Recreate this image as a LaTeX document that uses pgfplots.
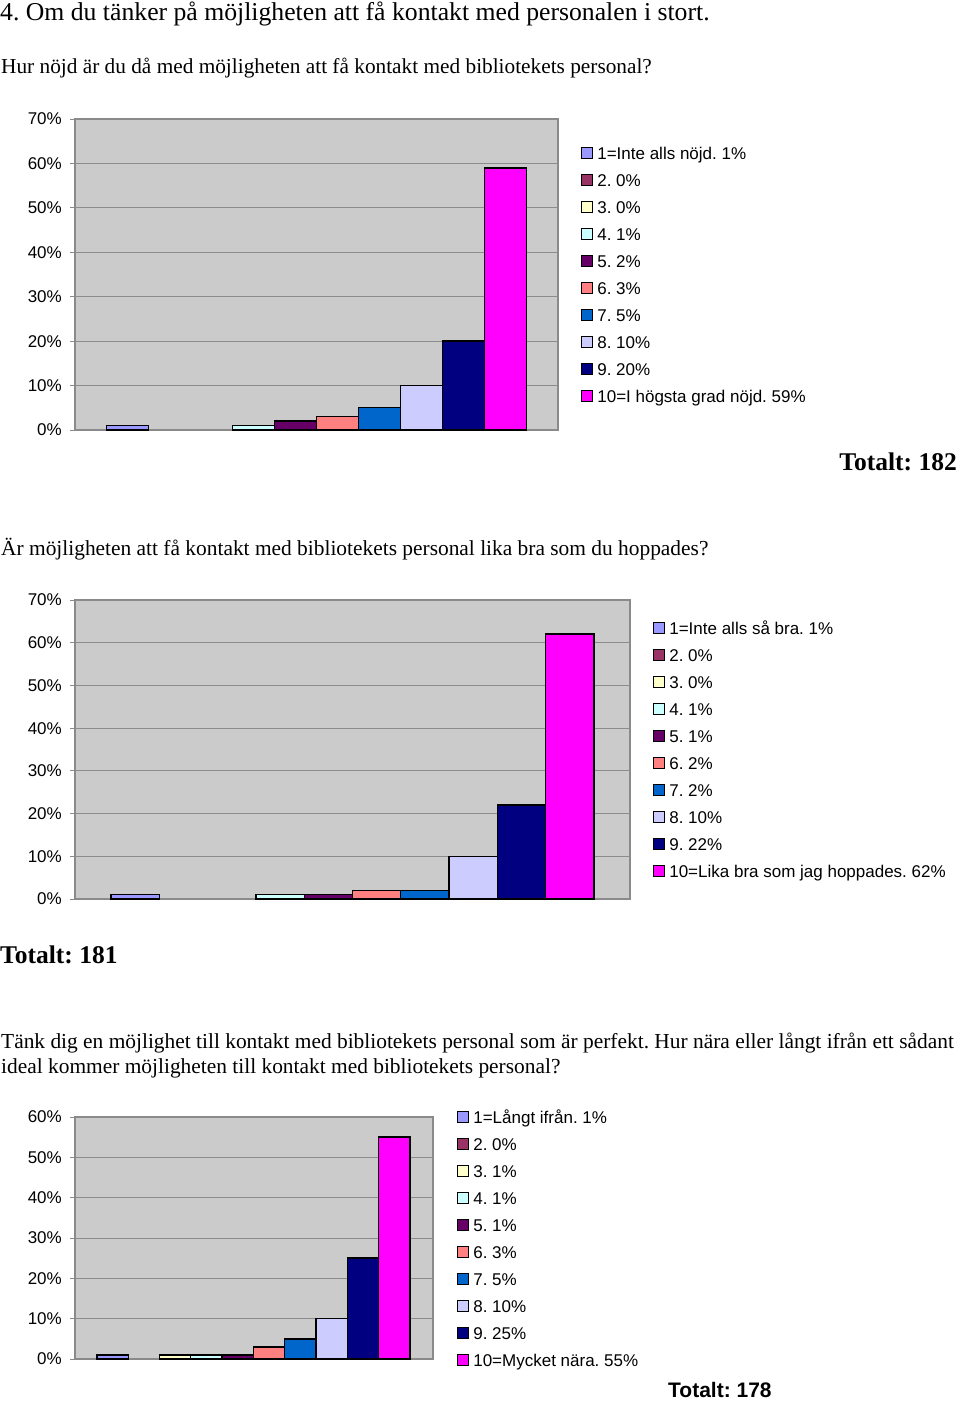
\documentclass[border=0pt]{standalone}
\usepackage{pgfplots}
\pgfplotsset{compat=1.18}
\usepackage{fontspec}
\setmainfont{Liberation Serif}
\newfontfamily\arial{Liberation Sans}
\definecolor{c1}{HTML}{9999FF}
\definecolor{c2}{HTML}{993366}
\definecolor{c3}{HTML}{FFFFCC}
\definecolor{c4}{HTML}{CCFFFF}
\definecolor{c5}{HTML}{660066}
\definecolor{c6}{HTML}{FF8080}
\definecolor{c7}{HTML}{0066CC}
\definecolor{c8}{HTML}{CCCCFF}
\definecolor{c9}{HTML}{000080}
\definecolor{c10}{HTML}{FF00FF}
\definecolor{plotgray}{HTML}{CBCBCB}
\definecolor{gridgray}{HTML}{8C8C8C}
\definecolor{axisgray}{HTML}{8A8A8A}
\pgfplotsset{
  sbar/.style={ybar, bar width=1, bar shift=0pt, draw=black, line width=1.4pt, fill=#1,
    legend image code/.code={\filldraw[##1,draw=black,line width=1.3pt,fill opacity=1,draw opacity=1] (0pt,-4pt) rectangle (11pt,7pt); \path (15pt,0pt);}},
  zerobar/.style={draw=none, fill opacity=0},
  survey/.style={
    scale only axis,
    axis background/.style={fill=plotgray},
    ymin=0,
    xtick=\empty,
    ymajorgrids,
    major grid style={draw=gridgray, line width=1pt},
    axis line style={draw=axisgray, line width=1.6pt},
    ytick pos=left,
    ytick align=outside, major tick length=5pt,
    tick style={draw=axisgray, line width=1pt},
    yticklabel style={font=\fontsize{17}{20}\selectfont\arial, inner sep=0pt, anchor=east, xshift=-8pt},
    clip=false,
    legend cell align=left,
    legend style={draw=none, fill=none, inner sep=0pt, outer sep=0pt, anchor=north west,
      font=\fontsize{17}{20}\selectfont\arial\frenchspacing, row sep=10pt, column sep=0pt,
      nodes={inner sep=0pt, text height=13pt, text depth=4pt}},
  }
}
\frenchspacing
\begin{document}
\frenchspacing
\begin{tikzpicture}[x=1pt,y=1pt]
\useasboundingbox (0,0) rectangle (960,-1401);
% texts
\node[anchor=base west, inner sep=0pt] at (0,-20) {\fontsize{25.7}{30}\selectfont 4. Om du tänker på möjligheten att få kontakt med personalen i stort.};
\node[anchor=base west, inner sep=0pt] at (1,-73) {\fontsize{21.3}{25}\selectfont Hur nöjd är du då med möjligheten att få kontakt med bibliotekets personal?};
\node[anchor=base east, inner sep=0pt] at (957,-470) {\fontsize{25.5}{30}\selectfont\bfseries Totalt: 182};
\node[anchor=base west, inner sep=0pt] at (1,-555) {\fontsize{21.4}{25}\selectfont Är möjligheten att få kontakt med bibliotekets personal lika bra som du hoppades?};
\node[anchor=base west, inner sep=0pt] at (0,-963) {\fontsize{25.5}{30}\selectfont\bfseries Totalt: 181};
\node[anchor=base west, inner sep=0pt] at (1,-1048) {\fontsize{21.4}{25}\selectfont Tänk dig en möjlighet till kontakt med bibliotekets personal som är perfekt. Hur nära eller långt ifrån ett sådant};
\node[anchor=base west, inner sep=0pt] at (1,-1073) {\fontsize{21.4}{25}\selectfont ideal kommer möjligheten till kontakt med bibliotekets personal?};
\node[anchor=base west, inner sep=0pt] at (668,-1397) {\fontsize{21}{25}\selectfont\arial\bfseries Totalt: 178};

% chart 1
\begin{axis}[survey, at={(75pt,-430pt)}, anchor=south west, width=483pt, height=311pt,
  xmin=-0.25, xmax=11.25, ymax=70, ytick={0,10,...,70},
  yticklabels={0\%,10\%,20\%,30\%,40\%,50\%,60\%,70\%},
  legend style={at={(axis description cs:1.0476,0.9132)}}]
\addplot[sbar=c1] coordinates {(1,1)}; \addlegendentry{1=Inte alls nöjd. 1\%}
\addplot[sbar=c2, zerobar] coordinates {(2,0)}; \addlegendentry{2. 0\%}
\addplot[sbar=c3, zerobar] coordinates {(3,0)}; \addlegendentry{3. 0\%}
\addplot[sbar=c4] coordinates {(4,1)}; \addlegendentry{4. 1\%}
\addplot[sbar=c5] coordinates {(5,2)}; \addlegendentry{5. 2\%}
\addplot[sbar=c6] coordinates {(6,3)}; \addlegendentry{6. 3\%}
\addplot[sbar=c7] coordinates {(7,5)}; \addlegendentry{7. 5\%}
\addplot[sbar=c8] coordinates {(8,10)}; \addlegendentry{8. 10\%}
\addplot[sbar=c9] coordinates {(9,20)}; \addlegendentry{9. 20\%}
\addplot[sbar=c10] coordinates {(10,59)}; \addlegendentry{10=I högsta grad nöjd. 59\%}
\end{axis}

% chart 2
\begin{axis}[survey, at={(75pt,-899pt)}, anchor=south west, width=555pt, height=299pt,
  xmin=-0.25, xmax=11.25, ymax=70, ytick={0,10,...,70},
  yticklabels={0\%,10\%,20\%,30\%,40\%,50\%,60\%,70\%},
  legend style={at={(axis description cs:1.0414,0.9298)}}]
\addplot[sbar=c1] coordinates {(1,1)}; \addlegendentry{1=Inte alls så bra. 1\%}
\addplot[sbar=c2, zerobar] coordinates {(2,0)}; \addlegendentry{2. 0\%}
\addplot[sbar=c3, zerobar] coordinates {(3,0)}; \addlegendentry{3. 0\%}
\addplot[sbar=c4] coordinates {(4,1)}; \addlegendentry{4. 1\%}
\addplot[sbar=c5] coordinates {(5,1)}; \addlegendentry{5. 1\%}
\addplot[sbar=c6] coordinates {(6,2)}; \addlegendentry{6. 2\%}
\addplot[sbar=c7] coordinates {(7,2)}; \addlegendentry{7. 2\%}
\addplot[sbar=c8] coordinates {(8,10)}; \addlegendentry{8. 10\%}
\addplot[sbar=c9] coordinates {(9,22)}; \addlegendentry{9. 22\%}
\addplot[sbar=c10] coordinates {(10,62)}; \addlegendentry{10=Lika bra som jag hoppades. 62\%}
\end{axis}

% chart 3
\begin{axis}[survey, at={(75pt,-1359pt)}, anchor=south west, width=358pt, height=242pt,
  xmin=-0.2, xmax=11.24, ymax=60, ytick={0,10,...,60},
  yticklabels={0\%,10\%,20\%,30\%,40\%,50\%,60\%},
  legend style={at={(axis description cs:1.0670,1.0289)}}]
\addplot[sbar=c1] coordinates {(1,1)}; \addlegendentry{1=Långt ifrån. 1\%}
\addplot[sbar=c2, zerobar] coordinates {(2,0)}; \addlegendentry{2. 0\%}
\addplot[sbar=c3] coordinates {(3,1)}; \addlegendentry{3. 1\%}
\addplot[sbar=c4] coordinates {(4,1)}; \addlegendentry{4. 1\%}
\addplot[sbar=c5] coordinates {(5,1)}; \addlegendentry{5. 1\%}
\addplot[sbar=c6] coordinates {(6,3)}; \addlegendentry{6. 3\%}
\addplot[sbar=c7] coordinates {(7,5)}; \addlegendentry{7. 5\%}
\addplot[sbar=c8] coordinates {(8,10)}; \addlegendentry{8. 10\%}
\addplot[sbar=c9] coordinates {(9,25)}; \addlegendentry{9. 25\%}
\addplot[sbar=c10] coordinates {(10,55)}; \addlegendentry{10=Mycket nära. 55\%}
\end{axis}
\end{tikzpicture}
\end{document}
